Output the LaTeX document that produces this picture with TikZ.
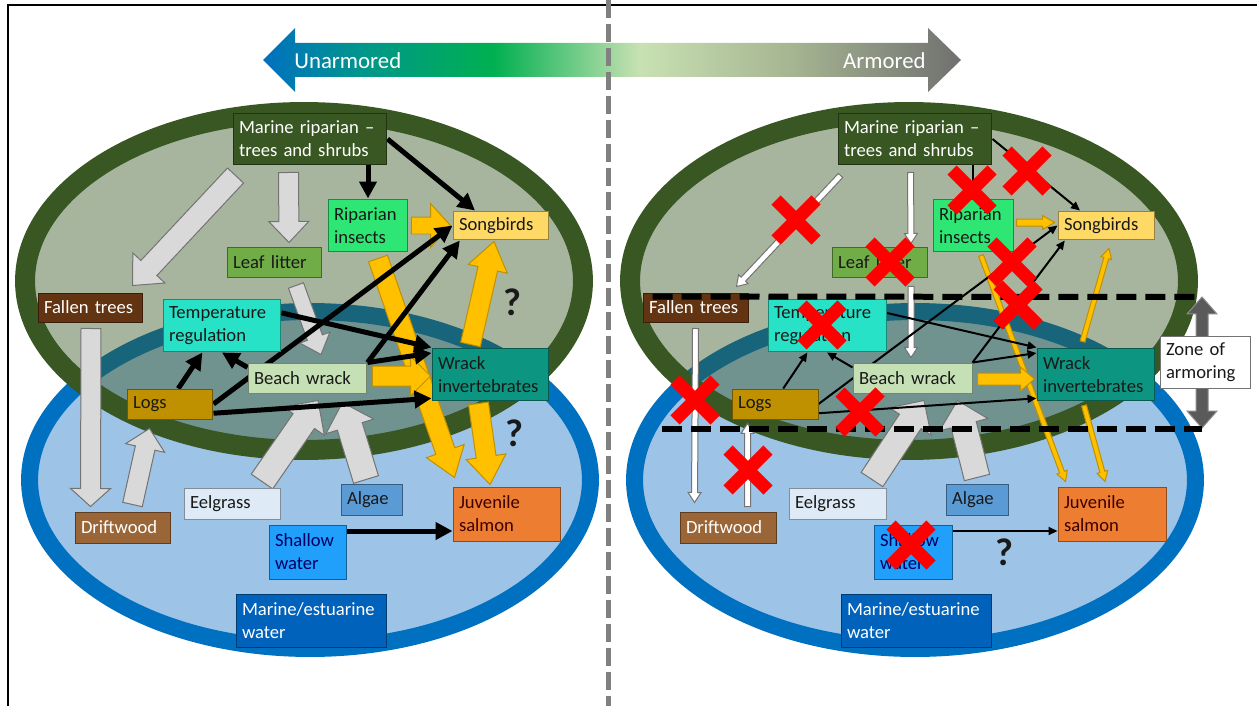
\documentclass[tikz,border=0pt]{standalone}
\usepackage{fontspec}
\setmainfont{Carlito}
\usepackage{xcolor}
\usepackage{tikz}
\usetikzlibrary{arrows.meta, positioning, calc, shapes.misc}

\definecolor{ringgreen}{RGB}{56,87,35}
\definecolor{ringblue}{RGB}{0,112,192}
\definecolor{waterblue}{RGB}{157,195,230}
\definecolor{insgreen}{RGB}{45,230,115}
\definecolor{songyellow}{RGB}{255,217,102}
\definecolor{leafgreen}{RGB}{112,173,71}
\definecolor{fallbrown}{RGB}{99,52,18}
\definecolor{tempcyan}{RGB}{40,226,200}
\definecolor{beachgreen}{RGB}{197,224,180}
\definecolor{wrackteal}{RGB}{12,150,130}
\definecolor{logsgold}{RGB}{191,144,0}
\definecolor{eelblue}{RGB}{222,235,247}
\definecolor{algblue}{RGB}{91,155,213}
\definecolor{salmonorange}{RGB}{237,125,49}
\definecolor{driftbrown}{RGB}{154,102,55}
\definecolor{shallowblue}{RGB}{32,160,250}
\definecolor{deepblue}{RGB}{0,98,186}
\definecolor{flowyellow}{RGB}{255,192,0}
\definecolor{flowgray}{RGB}{217,217,217}
\definecolor{zonegray}{RGB}{90,90,90}
\definecolor{textdark}{RGB}{25,25,25}
\definecolor{gradteal}{RGB}{0,150,140}
\definecolor{gradgreen}{RGB}{0,176,80}
\definecolor{gradlight}{RGB}{200,225,178}
\definecolor{gradsage}{RGB}{165,180,145}
\definecolor{gradgray}{RGB}{112,112,112}

% the middle 50bp of the shading covers the path
\pgfdeclarehorizontalshading{armorgrad}{100bp}{color(0bp)=(ringblue); color(25bp)=(ringblue); color(32bp)=(gradteal); color(41.5bp)=(gradgreen); color(52bp)=(gradlight); color(63bp)=(gradsage); color(75bp)=(gradgray); color(100bp)=(gradgray)}

\pgfdeclarelayer{sea}
\pgfdeclarelayer{links}
\pgfdeclarelayer{marks}
\pgfsetlayers{sea,links,main,marks}

% block arrow: style, from, to, half shaft, half head, head length
\newcommand{\fatarrow}[6]{%
  \coordinate (fa-s) at (#2);
  \coordinate (fa-e) at (#3);
  \coordinate (fa-b) at ($(fa-e)!#6!(fa-s)$);
  \path[#1] ($(fa-s)!#4!90:(fa-e)$) -- ($(fa-b)!#4!-90:(fa-s)$) -- ($(fa-b)!#5!-90:(fa-s)$)
    -- (fa-e) -- ($(fa-b)!#5!90:(fa-s)$) -- ($(fa-b)!#4!90:(fa-s)$) -- ($(fa-s)!#4!-90:(fa-e)$) -- cycle;}

\begin{document}
\begin{tikzpicture}[
    x=0.02cm, y=-0.02cm,
    font=\fontsize{10.6}{13}\selectfont,
    box/.style={
        rectangle,
        draw=#1!60!black,
        fill=#1,
        line width=0.2mm,
        align=left,
        inner xsep=1.2mm,
        inner ysep=0.6mm,
        text=textdark
    },
    grayblk/.style={fill=flowgray, draw=black!55, line width=0.2mm},
    graythin/.style={fill=white, draw=black!55, line width=0.2mm},
    yellowblk/.style={fill=flowyellow, draw=logsgold, line width=0.2mm},
    zonearr/.style={fill=zonegray, draw=black!45, line width=0.2mm},
    thickarr/.style={-{Triangle[length=3.4mm,width=3.4mm]}, line width=1mm, draw=black},
    thinarr/.style={-{Triangle[length=1.8mm,width=1.6mm]}, line width=0.4mm, draw=black},
    redx/.style={cross out, draw=red, line width=2.6mm, minimum size=5.4mm, inner sep=0pt},
    qmark/.style={font=\fontsize{22}{22}\selectfont\bfseries, text=textdark, inner sep=0pt},
    zoneline/.style={line width=1.2mm, dash pattern=on 4mm off 1.8mm},
    toplabel/.style={font=\fontsize{13}{13}\selectfont, text=white, inner sep=0pt}
]
\useasboundingbox (0,0) rectangle (1257,706);

% --- Frame and gradient ------------------------------------------------------

\draw[line width=0.3mm] (8,706) -- (8,5) -- (1257,5);

\shade[shading=armorgrad] (263,60) -- (295,28) -- (295,43) -- (928,43) -- (928,28)
    -- (961,60) -- (928,92) -- (928,77) -- (295,77) -- (295,92) -- cycle;
\node[toplabel, anchor=west] (unarm) at (294,61) {Unarmored};
\node[toplabel, anchor=east] (arm) at (926,61) {Armored};

\draw[black!50, line width=1mm, dash pattern=on 3.6mm off 1.2mm] (608,0) -- (608,706);

% --- Both panels: habitats and nodes -----------------------------------------

\foreach \p/\dx in {L/0, R/605} {
  \begin{scope}[shift={(\dx,0)}]
    \begin{pgfonlayer}{sea}
      \draw[draw=ringblue, fill=waterblue, line width=3.4mm] (310,480) ellipse [x radius=5.61cm, y radius=3.37cm];
      \fill[ringgreen, fill opacity=0.44] (304,281) ellipse [x radius=5.58cm, y radius=3.38cm];
      \draw[ringgreen, line width=4mm] (304,281) ellipse [x radius=5.58cm, y radius=3.38cm];
    \end{pgfonlayer}

    \node[box=ringgreen, text=white, text width=2.84cm, minimum height=1.04cm] (\p mrip) at (310,139) {Marine riparian –\\trees and shrubs};
    \node[box=insgreen, text width=1.36cm, minimum height=1.06cm] (\p ins) at (368,225.5) {Riparian\\insects};
    \node[box=songyellow, text width=1.68cm, minimum height=0.58cm] (\p song) at (501,225.5) {Songbirds};
    \node[box=leafgreen, text width=1.66cm, minimum height=0.62cm] (\p leaf) at (274.5,262.5) {Leaf litter};
    \node[box=fallbrown, text=white, text width=1.86cm, minimum height=0.58cm] (\p fall) at (90.5,307.5) {Fallen trees};
    \node[box=tempcyan, text width=2.12cm, minimum height=1.06cm] (\p temp) at (222,325.5) {Temperature\\regulation};
    \node[box=beachgreen, text width=2.14cm, minimum height=0.6cm] (\p bw) at (307.5,378) {Beach wrack};
    \node[box=wrackteal, text width=2.1cm, minimum height=1.06cm] (\p wrk) at (490.5,374.5) {Wrack\\invertebrates};
    \node[box=logsgold, text width=1.48cm, minimum height=0.6cm] (\p logs) at (170,404) {Logs};
    \node[box=eelblue, text width=1.7cm, minimum height=0.62cm] (\p eel) at (232.5,503.5) {Eelgrass};
    \node[box=algblue, text width=1.0cm, minimum height=0.62cm] (\p alg) at (372,499.5) {Algae};
    \node[box=salmonorange, text=black!60!red!60!black, text width=1.92cm, minimum height=1.08cm] (\p sal) at (507,514) {Juvenile\\salmon};
    \node[box=driftbrown, text=white, text width=1.68cm, minimum height=0.62cm] (\p drift) at (123,527.5) {Driftwood};
    \node[box=shallowblue, text=blue!40!black, text width=1.32cm, minimum height=1.08cm] (\p shw) at (308,552) {Shallow\\water};
    \node[box=deepblue, text=white, text width=2.78cm, minimum height=1.06cm] (\p mw) at (311.5,620.5) {Marine/estuarine\\water};
  \end{scope}
}

\node[box=white, draw=black!55, text width=1.56cm, minimum height=1.06cm] (zone) at (1205,362.5) {Zone of\\armoring};

% --- Unarmored flows ---------------------------------------------------------

\begin{pgfonlayer}{links}
\fatarrow{grayblk}{$(Lmrip.south west)+(3,10)$}{$(Lfall.north east)+(-11,-7)$}{2.2mm}{4.4mm}{4.8mm}
\fatarrow{grayblk}{$(Lmrip.south west)+(56,7)$}{$(Lleaf.north)+(14.5,-4)$}{2mm}{4mm}{4.2mm}
\fatarrow{grayblk}{$(Lleaf.south)+(21.5,7)$}{$(Lbw.north)+(13.5,-8)$}{1.6mm}{3.2mm}{3.6mm}
\fatarrow{grayblk}{$(Lfall.south)+(0.5,6)$}{$(Ldrift.north west)+(16,-5)$}{2mm}{4mm}{3.6mm}
\fatarrow{grayblk}{$(Ldrift.north west)+(58,-7)$}{$(Llogs.south west)+(23,9)$}{2mm}{4mm}{4mm}
\fatarrow{grayblk}{$(Leel.north)+(29.5,-6)$}{$(Lbw.south)+(10.5,7)$}{2.6mm}{5mm}{5mm}
\fatarrow{grayblk}{$(Lalg.north)+(-6,-4)$}{$(Lbw.south east)+(-25,9)$}{2.6mm}{5mm}{5mm}

\fatarrow{yellowblk}{$(Lins.east)+(3,0)$}{$(Lsong.west)+(-2,0)$}{1.7mm}{4.4mm}{4mm}
\fatarrow{yellowblk}{$(Lins.south)+(10,6)$}{$(Lsal.north west)+(2,-9)$}{2mm}{4mm}{5.6mm}
\fatarrow{yellowblk}{$(Lwrk.north)+(-20,-3)$}{$(Lsong.south)+(-7,1)$}{2mm}{4mm}{5.6mm}
\fatarrow{yellowblk}{$(Lbw.east)+(5,-2)$}{$(Lwrk.west)+(-1,1.5)$}{2mm}{4mm}{4mm}
\fatarrow{yellowblk}{$(Lwrk.south)+(-12,2)$}{$(Lsal.north)+(-17,-2)$}{2mm}{4mm}{5.6mm}

\draw[thickarr] (Lmrip.south -| Lins.north) -- (Lins.north);
\draw[thickarr] (Lmrip.east) -- (Lsong.150);
\draw[thickarr] (Llogs.east) -- (Lsong.west);
\draw[thickarr] (Lbw.north east) -- (Lsong.200);
\draw[thickarr] (Lbw.north east) -- (Lwrk.160);
\draw[thickarr] (Ltemp.12) -- (Lwrk.north west);
\draw[thickarr] (Llogs.62) -- (Ltemp.234);
\draw[thickarr] (Lbw.170) -- (Ltemp.south);
\draw[thickarr] (Llogs.-12) -- (Lwrk.202);
\draw[thickarr] (Lshw.28) -- (Lshw.28 -| Lsal.west);

% --- Armored flows -----------------------------------------------------------

\fatarrow{graythin}{$(Rmrip.south west)+(3,10)$}{$(Rfall.north east)+(-12,-6)$}{0.6mm}{1.3mm}{2mm}
\fatarrow{graythin}{$(Rmrip.south west)+(73,7)$}{$(Rleaf.north)+(31.5,-3)$}{0.6mm}{1.3mm}{2mm}
\fatarrow{graythin}{$(Rleaf.south)+(31.5,8)$}{$(Rbw.north)+(-1.5,-5)$}{0.6mm}{1.3mm}{2mm}
\fatarrow{graythin}{$(Rfall.south)+(0,6)$}{$(Rdrift.north west)+(15,-9)$}{0.6mm}{1.3mm}{2mm}
\fatarrow{graythin}{$(Rdrift.north west)+(68,-5)$}{$(Rlogs.south west)+(16,4)$}{0.6mm}{1.3mm}{2mm}
\fatarrow{grayblk}{$(Reel.north)+(34.5,-8)$}{$(Rbw.south)+(11.5,7)$}{2.6mm}{5mm}{5mm}
\fatarrow{grayblk}{$(Ralg.north)+(0,-6)$}{$(Rbw.south east)+(-15,7)$}{2.6mm}{5mm}{5mm}

\fatarrow{yellowblk}{$(Rins.east)+(3,-3)$}{$(Rsong.west)+(-3,-3)$}{0.7mm}{1.4mm}{2.4mm}
\fatarrow{yellowblk}{$(Rins.south)+(8,3)$}{$(Rsal.north west)+(8,-5)$}{0.5mm}{1.1mm}{2mm}
\fatarrow{yellowblk}{$(Rwrk.north)+(-13,-6)$}{$(Rsong.south)+(3,8)$}{0.5mm}{1.1mm}{2mm}
\fatarrow{yellowblk}{$(Rbw.east)+(5,1)$}{$(Rwrk.west)+(-2,4.5)$}{1.2mm}{2.4mm}{2.8mm}
\fatarrow{yellowblk}{$(Rwrk.south)+(-11.5,4)$}{$(Rsal.north)+(-7,-5)$}{0.5mm}{1.1mm}{2mm}

\draw[thinarr] (Rmrip.south -| Rins.north) -- (Rins.north);
\draw[thinarr] (Rmrip.east) -- (Rsong.150);
\draw[thinarr] (Rlogs.east) -- (Rsong.west);
\draw[thinarr] (Rbw.north east) -- (Rsong.200);
\draw[thinarr] (Rbw.north east) -- (Rwrk.160);
\draw[thinarr] (Rtemp.12) -- (Rwrk.north west);
\draw[thinarr] (Rlogs.62) -- (Rtemp.234);
\draw[thinarr] (Rbw.170) -- (Rtemp.south);
\draw[thinarr] (Rlogs.-12) -- (Rwrk.202);
\draw[thinarr] (Rshw.28) -- (Rshw.28 -| Rsal.west);

% zone of armoring
\coordinate (ztop) at (1202,297);
\coordinate (zbot) at (1202,428);
\coordinate (zbl) at (662,429);
\fatarrow{zonearr}{zone.center -| ztop}{ztop}{1.2mm}{3mm}{3.4mm}
\fatarrow{zonearr}{zone.center -| ztop}{zbot}{1.2mm}{3mm}{3.4mm}
\end{pgfonlayer}

% --- Question marks ----------------------------------------------------------

\node[qmark] (q1) at (512,302) {?};
\node[qmark] (q2) at (514,433) {?};
\node[qmark] (q3) at (1004,552) {?};

% --- Lost links --------------------------------------------------------------

\begin{pgfonlayer}{marks}
\draw[zoneline] ($(Rfall.north west)+(10,4)$) -- (ztop);
\draw[zoneline] (zbl) -- (zbot |- zbl);

\node[redx] (xa) at (796,220) {};
\node[redx] (xb) at (972,190) {};
\node[redx] (xc) at (1027,171) {};
\node[redx] (xd) at (890,262) {};
\node[redx] (xe) at (1012,262) {};
\node[redx] (xf) at (1018,305) {};
\node[redx] (xg) at (822,325) {};
\node[redx] (xh) at (695,400) {};
\node[redx] (xi) at (860,412) {};
\node[redx] (xj) at (748,470) {};
\node[redx] (xk) at (911,545) {};
\end{pgfonlayer}

\end{tikzpicture}
\end{document}
